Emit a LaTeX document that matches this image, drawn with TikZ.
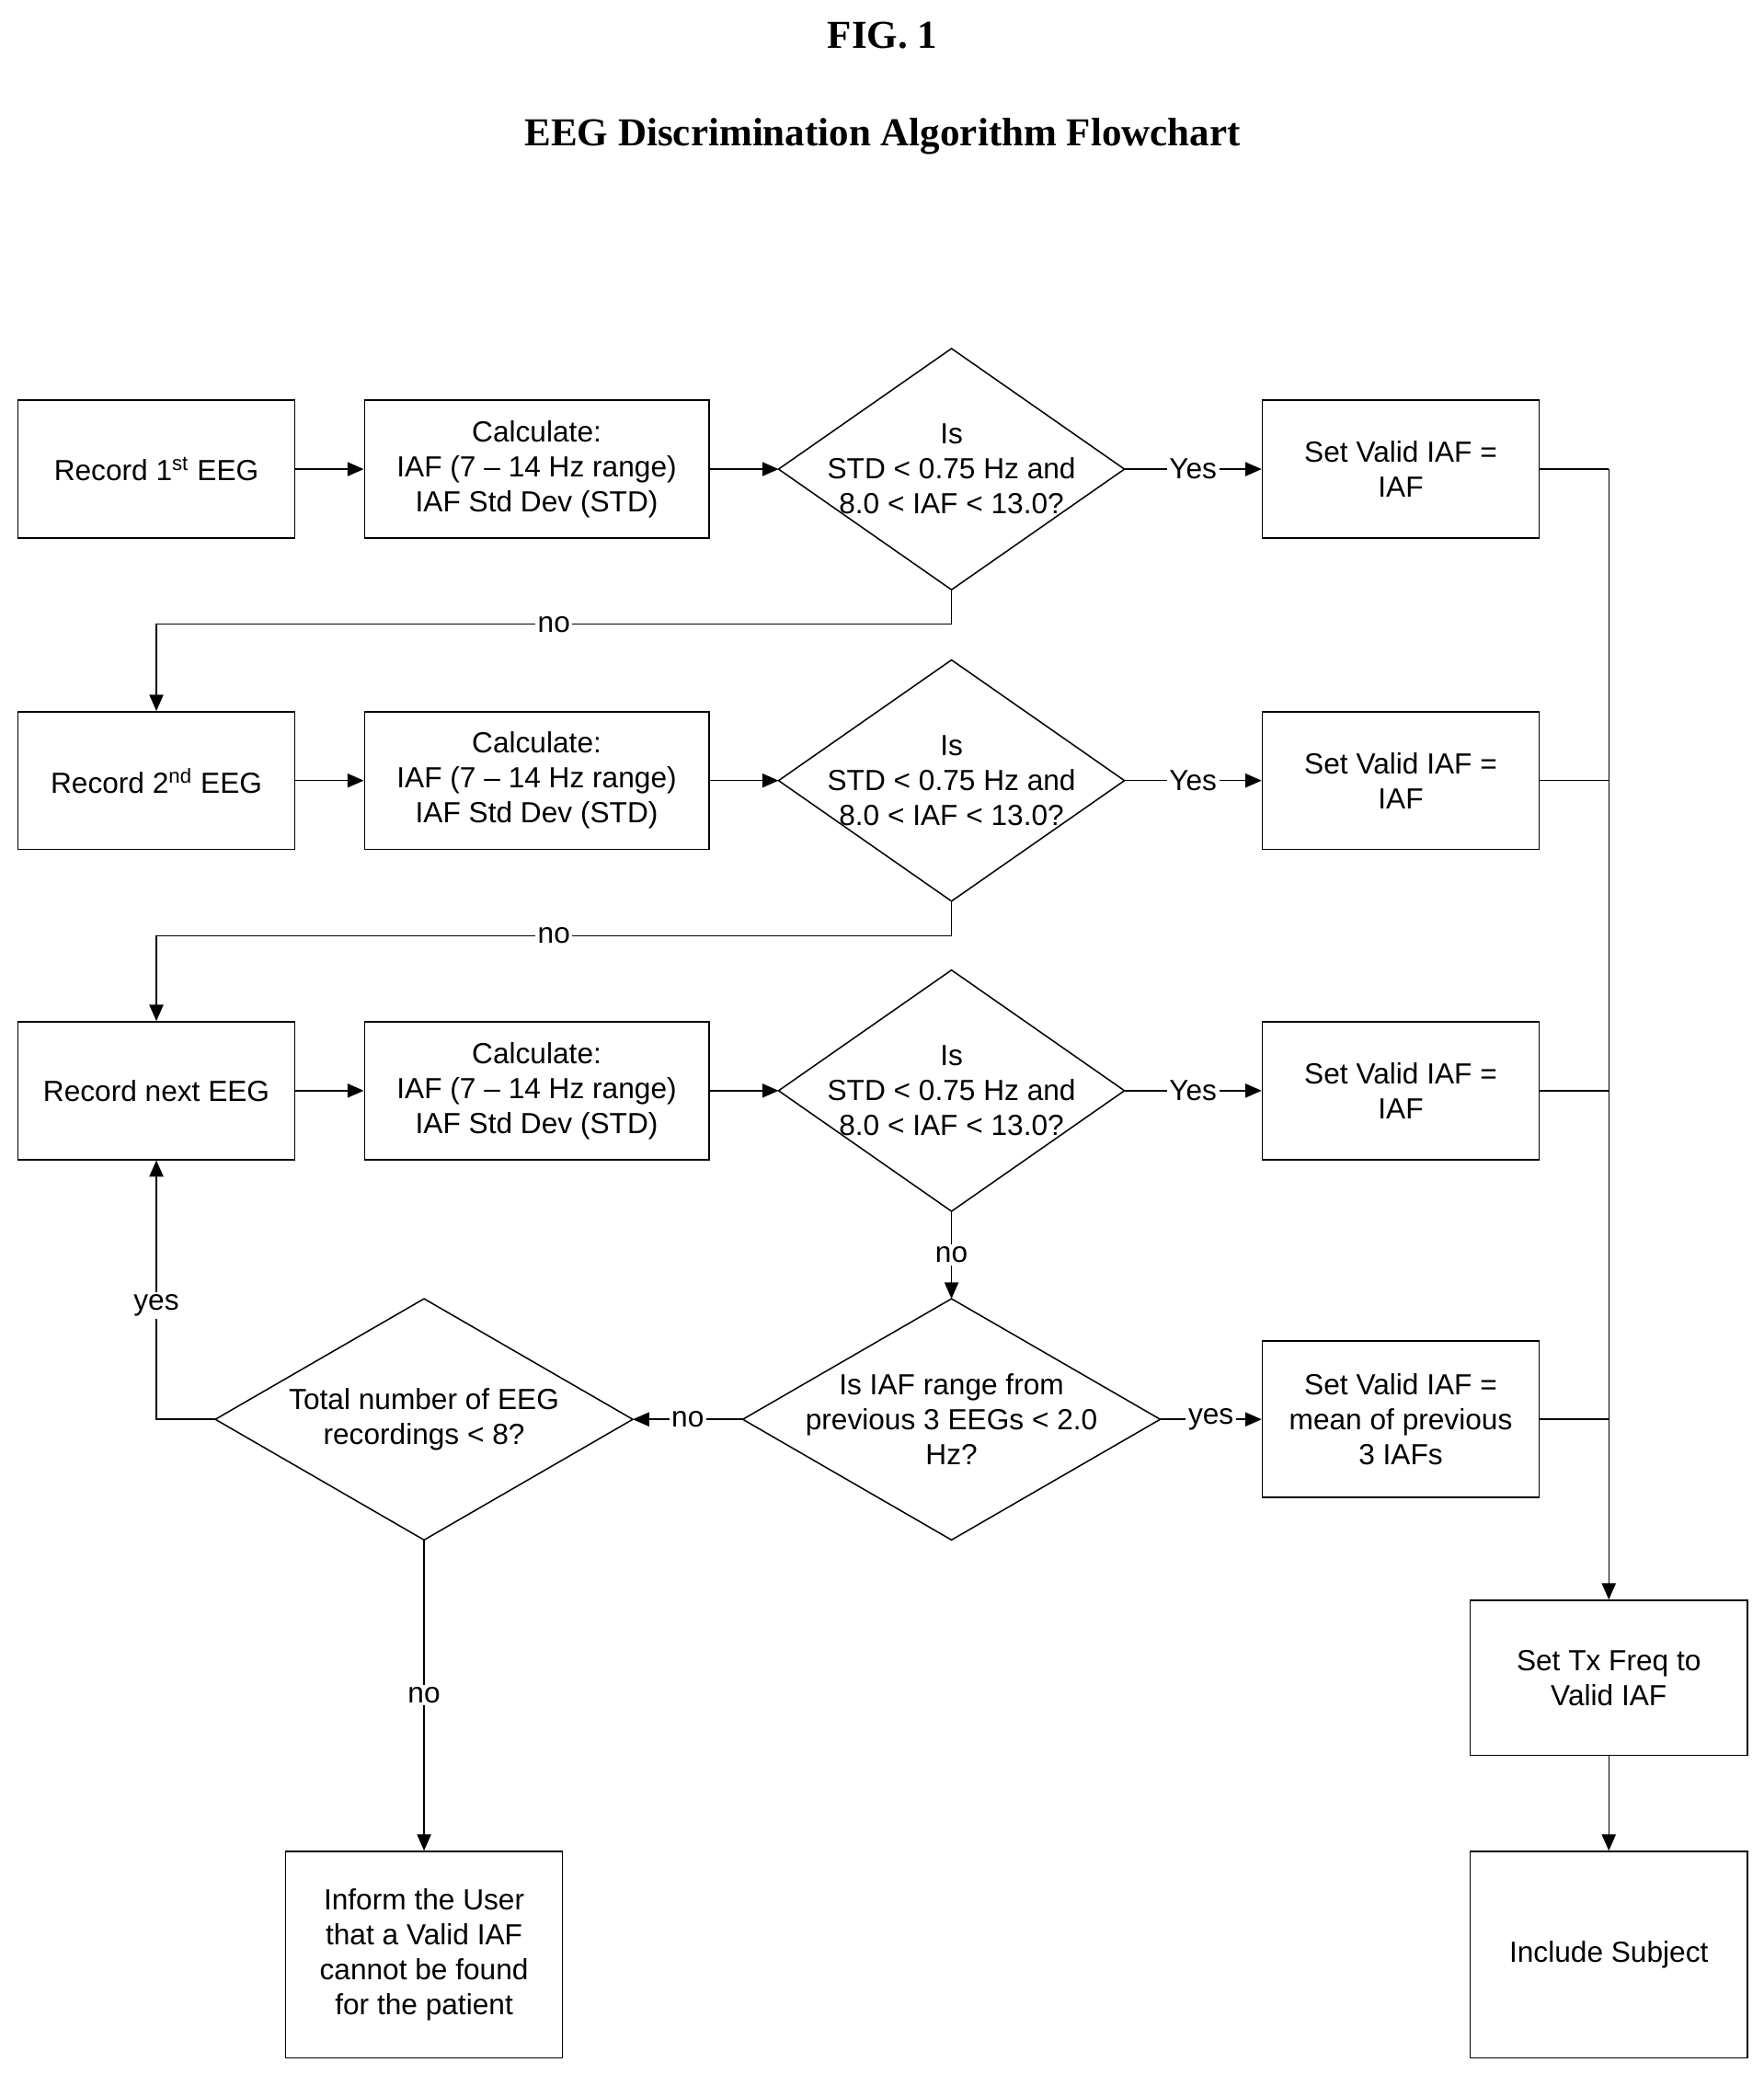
\documentclass[tikz,border=0pt]{standalone}
\usepackage{fontspec}
\setmainfont{Liberation Sans}
\newfontfamily\titlefont{Liberation Serif}
\usetikzlibrary{arrows.meta}
\tikzset{
  font={\fontsize{12.5pt}{15pt}\selectfont}}
\begin{document}
\begin{tikzpicture}[x=0.02cm, y=-0.02cm, line width=0.6pt, >={Triangle[length=7pt,width=6pt]},
  box/.style = {draw, rectangle, align=center, minimum width=4.18cm, minimum height=2.08cm, inner sep=2pt},
  dec/.style = {rectangle, align=center, minimum width=5.2cm, minimum height=3.62cm, inner sep=0pt},
  lbl/.style = {fill=white, inner sep=1pt}]
\useasboundingbox (0,0) rectangle (1331,1565);
\node[font={\titlefont\bfseries\fontsize{17pt}{20pt}\selectfont}] (fig) at (666,27) {FIG. 1};
\node[font={\titlefont\bfseries\fontsize{17pt}{20pt}\selectfont}] (title) at (666,103) {EEG Discrimination Algorithm Flowchart};

% rows
\node[box] (rec1) at (118,354) {Record 1\textsuperscript{st} EEG};
\node[box, minimum width=5.2cm] (calc1) at (405,354) {Calculate:\\IAF (7 -- 14 Hz range)\\IAF Std Dev (STD)};
\node[dec] (is1) at (718,354) {Is\\STD < 0.75 Hz and\\8.0 < IAF < 13.0?};
\node[box] (set1) at (1057,354) {Set Valid IAF =\\IAF};

\node[box] (rec2) at (118,589) {Record 2\textsuperscript{nd} EEG};
\node[box, minimum width=5.2cm] (calc2) at (405,589) {Calculate:\\IAF (7 -- 14 Hz range)\\IAF Std Dev (STD)};
\node[dec] (is2) at (718,589) {Is\\STD < 0.75 Hz and\\8.0 < IAF < 13.0?};
\node[box] (set2) at (1057,589) {Set Valid IAF =\\IAF};

\node[box] (rec3) at (118,823) {Record next EEG};
\node[box, minimum width=5.2cm] (calc3) at (405,823) {Calculate:\\IAF (7 -- 14 Hz range)\\IAF Std Dev (STD)};
\node[dec] (is3) at (718,823) {Is\\STD < 0.75 Hz and\\8.0 < IAF < 13.0?};
\node[box] (set3) at (1057,823) {Set Valid IAF =\\IAF};

\node[dec, minimum width=6.28cm] (rng) at (718,1071) {Is IAF range from\\previous 3 EEGs < 2.0\\Hz?};
\node[dec, minimum width=6.28cm] (tot) at (320,1071) {Total number of EEG\\recordings < 8?};
\node[box, minimum height=2.36cm] (mean) at (1057,1071) {Set Valid IAF =\\mean of previous\\3 IAFs};

\node[box, minimum height=2.34cm] (tx) at (1214,1266) {Set Tx Freq to\\Valid IAF};
\node[box, minimum height=3.12cm] (incl) at (1214,1475) {Include Subject};
\node[box, minimum height=3.12cm] (inform) at (320,1475) {Inform the User\\that a Valid IAF\\cannot be found\\for the patient};

% diamonds
\foreach \d in {is1,is2,is3,rng,tot}
  \draw (\d.north) -- (\d.east) -- (\d.south) -- (\d.west) -- cycle;

\foreach \r in {1,2,3} {
  \draw[->] (rec\r) -- (calc\r);
  \draw[->] (calc\r) -- (is\r.west);
  \draw[->] (is\r.east) -- node[lbl] {Yes} (set\r);
  \draw (set\r.east) -- (set\r.east -| tx.north);
}
\draw (mean.east) -- (mean.east -| tx.north);
\draw[->] (set1.east -| tx.north) -- (tx.north);

\draw[->] (is1.south) |- ++(0,26) -| node[lbl, pos=0.25] {no} (rec2.north);
\draw[->] (is2.south) |- ++(0,26) -| node[lbl, pos=0.25] {no} (rec3.north);
\draw[->] (is3.south) -- node[lbl] {no} (rng.north);
\draw[->] (rng.west) -- node[lbl] {no} (tot.east);
\draw[->] (rng.east) -- node[lbl] {yes} (mean);
\draw[->] (tot.west) -| node[lbl, pos=0.72] {yes} (rec3.south);
\draw[->] (tot.south) -- node[lbl] {no} (inform);
\draw[->] (tx) -- (incl);
\end{tikzpicture}
\end{document}
